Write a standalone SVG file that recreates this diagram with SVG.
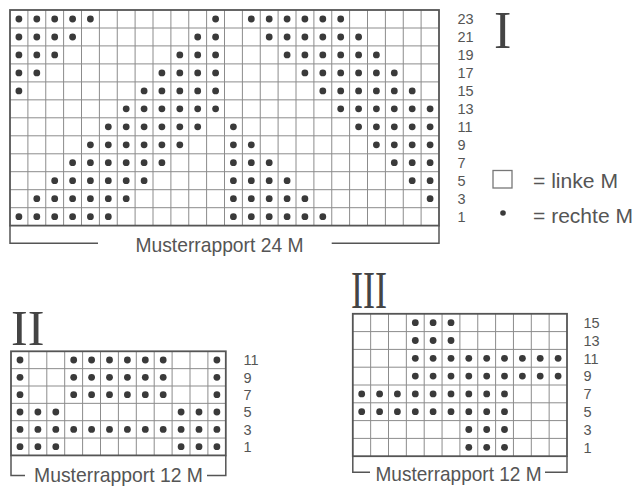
<svg xmlns="http://www.w3.org/2000/svg" width="638" height="487" viewBox="0 0 638 487">
<style>
.g{stroke:#8c8c8c;stroke-width:1;fill:none}
.b{stroke:#555;stroke-width:1.8;fill:none}
.br{stroke:#555;stroke-width:1.5;fill:none}
.dot circle{fill:#3a3a3a}
.t{font-family:"Liberation Sans",Arial,sans-serif;fill:#555}
.n{font-family:"Liberation Sans",Arial,sans-serif;fill:#555;font-size:14.5px}
.r{font-family:"Liberation Serif","Times New Roman",serif;fill:#444}
</style>
<rect width="638" height="487" fill="#fff"/>
<g id="chart-I">
<path class="g" d="M27.9 10V225.6M45.75 10V225.6M63.6 10V225.6M81.5 10V225.6M99.4 10V225.6M117.25 10V225.6M135.1 10V225.6M153 10V225.6M170.9 10V225.6M188.75 10V225.6M206.6 10V225.6M224.5 10V225.6M242.4 10V225.6M260.25 10V225.6M278.1 10V225.6M296 10V225.6M313.9 10V225.6M331.75 10V225.6M349.6 10V225.6M367.5 10V225.6M385.4 10V225.6M403.25 10V225.6M421.1 10V225.6M10 28H439M10 45.9H439M10 63.9H439M10 81.9H439M10 99.85H439M10 117.8H439M10 135.8H439M10 153.8H439M10 171.7H439M10 189.7H439M10 207.7H439"/>
<rect class="b" x="10" y="10" width="429" height="215.6"/>
<path class="br" d="M10 225.6V243.3H98M439 225.6V243.3H331.7"/>
<g class="dot">
<circle cx="18.9" cy="19" r="3.4"/><circle cx="36.8" cy="19" r="3.4"/><circle cx="54.7" cy="19" r="3.4"/><circle cx="72.6" cy="19" r="3.4"/><circle cx="90.4" cy="19" r="3.4"/><circle cx="215.6" cy="19" r="3.4"/><circle cx="251.3" cy="19" r="3.4"/><circle cx="269.2" cy="19" r="3.4"/><circle cx="287.1" cy="19" r="3.4"/><circle cx="304.9" cy="19" r="3.4"/><circle cx="322.8" cy="19" r="3.4"/><circle cx="340.7" cy="19" r="3.4"/>
<circle cx="18.9" cy="37" r="3.4"/><circle cx="36.8" cy="37" r="3.4"/><circle cx="54.7" cy="37" r="3.4"/><circle cx="72.6" cy="37" r="3.4"/><circle cx="197.7" cy="37" r="3.4"/><circle cx="215.6" cy="37" r="3.4"/><circle cx="269.2" cy="37" r="3.4"/><circle cx="287.1" cy="37" r="3.4"/><circle cx="304.9" cy="37" r="3.4"/><circle cx="322.8" cy="37" r="3.4"/><circle cx="340.7" cy="37" r="3.4"/><circle cx="358.6" cy="37" r="3.4"/>
<circle cx="18.9" cy="54.9" r="3.4"/><circle cx="36.8" cy="54.9" r="3.4"/><circle cx="54.7" cy="54.9" r="3.4"/><circle cx="179.8" cy="54.9" r="3.4"/><circle cx="197.7" cy="54.9" r="3.4"/><circle cx="215.6" cy="54.9" r="3.4"/><circle cx="287.1" cy="54.9" r="3.4"/><circle cx="304.9" cy="54.9" r="3.4"/><circle cx="322.8" cy="54.9" r="3.4"/><circle cx="340.7" cy="54.9" r="3.4"/><circle cx="358.6" cy="54.9" r="3.4"/><circle cx="376.4" cy="54.9" r="3.4"/>
<circle cx="18.9" cy="72.9" r="3.4"/><circle cx="36.8" cy="72.9" r="3.4"/><circle cx="161.9" cy="72.9" r="3.4"/><circle cx="179.8" cy="72.9" r="3.4"/><circle cx="197.7" cy="72.9" r="3.4"/><circle cx="215.6" cy="72.9" r="3.4"/><circle cx="304.9" cy="72.9" r="3.4"/><circle cx="322.8" cy="72.9" r="3.4"/><circle cx="340.7" cy="72.9" r="3.4"/><circle cx="358.6" cy="72.9" r="3.4"/><circle cx="376.4" cy="72.9" r="3.4"/><circle cx="394.3" cy="72.9" r="3.4"/>
<circle cx="18.9" cy="90.9" r="3.4"/><circle cx="144.1" cy="90.9" r="3.4"/><circle cx="161.9" cy="90.9" r="3.4"/><circle cx="179.8" cy="90.9" r="3.4"/><circle cx="197.7" cy="90.9" r="3.4"/><circle cx="215.6" cy="90.9" r="3.4"/><circle cx="322.8" cy="90.9" r="3.4"/><circle cx="340.7" cy="90.9" r="3.4"/><circle cx="358.6" cy="90.9" r="3.4"/><circle cx="376.4" cy="90.9" r="3.4"/><circle cx="394.3" cy="90.9" r="3.4"/><circle cx="412.2" cy="90.9" r="3.4"/>
<circle cx="126.2" cy="108.8" r="3.4"/><circle cx="144.1" cy="108.8" r="3.4"/><circle cx="161.9" cy="108.8" r="3.4"/><circle cx="179.8" cy="108.8" r="3.4"/><circle cx="197.7" cy="108.8" r="3.4"/><circle cx="215.6" cy="108.8" r="3.4"/><circle cx="340.7" cy="108.8" r="3.4"/><circle cx="358.6" cy="108.8" r="3.4"/><circle cx="376.4" cy="108.8" r="3.4"/><circle cx="394.3" cy="108.8" r="3.4"/><circle cx="412.2" cy="108.8" r="3.4"/><circle cx="430.1" cy="108.8" r="3.4"/>
<circle cx="108.3" cy="126.8" r="3.4"/><circle cx="126.2" cy="126.8" r="3.4"/><circle cx="144.1" cy="126.8" r="3.4"/><circle cx="161.9" cy="126.8" r="3.4"/><circle cx="179.8" cy="126.8" r="3.4"/><circle cx="197.7" cy="126.8" r="3.4"/><circle cx="233.4" cy="126.8" r="3.4"/><circle cx="358.6" cy="126.8" r="3.4"/><circle cx="376.4" cy="126.8" r="3.4"/><circle cx="394.3" cy="126.8" r="3.4"/><circle cx="412.2" cy="126.8" r="3.4"/><circle cx="430.1" cy="126.8" r="3.4"/>
<circle cx="90.4" cy="144.8" r="3.4"/><circle cx="108.3" cy="144.8" r="3.4"/><circle cx="126.2" cy="144.8" r="3.4"/><circle cx="144.1" cy="144.8" r="3.4"/><circle cx="161.9" cy="144.8" r="3.4"/><circle cx="179.8" cy="144.8" r="3.4"/><circle cx="233.4" cy="144.8" r="3.4"/><circle cx="251.3" cy="144.8" r="3.4"/><circle cx="376.4" cy="144.8" r="3.4"/><circle cx="394.3" cy="144.8" r="3.4"/><circle cx="412.2" cy="144.8" r="3.4"/><circle cx="430.1" cy="144.8" r="3.4"/>
<circle cx="72.6" cy="162.7" r="3.4"/><circle cx="90.4" cy="162.7" r="3.4"/><circle cx="108.3" cy="162.7" r="3.4"/><circle cx="126.2" cy="162.7" r="3.4"/><circle cx="144.1" cy="162.7" r="3.4"/><circle cx="161.9" cy="162.7" r="3.4"/><circle cx="233.4" cy="162.7" r="3.4"/><circle cx="251.3" cy="162.7" r="3.4"/><circle cx="269.2" cy="162.7" r="3.4"/><circle cx="394.3" cy="162.7" r="3.4"/><circle cx="412.2" cy="162.7" r="3.4"/><circle cx="430.1" cy="162.7" r="3.4"/>
<circle cx="54.7" cy="180.7" r="3.4"/><circle cx="72.6" cy="180.7" r="3.4"/><circle cx="90.4" cy="180.7" r="3.4"/><circle cx="108.3" cy="180.7" r="3.4"/><circle cx="126.2" cy="180.7" r="3.4"/><circle cx="144.1" cy="180.7" r="3.4"/><circle cx="233.4" cy="180.7" r="3.4"/><circle cx="251.3" cy="180.7" r="3.4"/><circle cx="269.2" cy="180.7" r="3.4"/><circle cx="287.1" cy="180.7" r="3.4"/><circle cx="412.2" cy="180.7" r="3.4"/><circle cx="430.1" cy="180.7" r="3.4"/>
<circle cx="36.8" cy="198.7" r="3.4"/><circle cx="54.7" cy="198.7" r="3.4"/><circle cx="72.6" cy="198.7" r="3.4"/><circle cx="90.4" cy="198.7" r="3.4"/><circle cx="108.3" cy="198.7" r="3.4"/><circle cx="126.2" cy="198.7" r="3.4"/><circle cx="233.4" cy="198.7" r="3.4"/><circle cx="251.3" cy="198.7" r="3.4"/><circle cx="269.2" cy="198.7" r="3.4"/><circle cx="287.1" cy="198.7" r="3.4"/><circle cx="304.9" cy="198.7" r="3.4"/><circle cx="430.1" cy="198.7" r="3.4"/>
<circle cx="18.9" cy="216.7" r="3.4"/><circle cx="36.8" cy="216.7" r="3.4"/><circle cx="54.7" cy="216.7" r="3.4"/><circle cx="72.6" cy="216.7" r="3.4"/><circle cx="90.4" cy="216.7" r="3.4"/><circle cx="108.3" cy="216.7" r="3.4"/><circle cx="233.4" cy="216.7" r="3.4"/><circle cx="251.3" cy="216.7" r="3.4"/><circle cx="269.2" cy="216.7" r="3.4"/><circle cx="287.1" cy="216.7" r="3.4"/><circle cx="304.9" cy="216.7" r="3.4"/><circle cx="322.8" cy="216.7" r="3.4"/>
</g>
<g class="n">
<text x="457.5" y="24.3">23</text><text x="457.5" y="42.3">21</text><text x="457.5" y="60.2">19</text><text x="457.5" y="78.2">17</text><text x="457.5" y="96.2">15</text><text x="457.5" y="114.1">13</text><text x="457.5" y="132.1">11</text><text x="457.5" y="150.1">9</text><text x="457.5" y="168">7</text><text x="457.5" y="186">5</text><text x="457.5" y="204">3</text><text x="457.5" y="222">1</text>
</g>
<text class="t" x="135.5" y="251.7" font-size="21" textLength="168" lengthAdjust="spacingAndGlyphs">Musterrapport 24 M</text>
<text class="r" x="494" y="48" font-size="52">I</text>
</g>
<g id="legend">
<rect x="493" y="170.5" width="19" height="17.5" fill="none" stroke="#777" stroke-width="1.3"/>
<text class="t" x="533" y="188" font-size="21" textLength="85" lengthAdjust="spacingAndGlyphs">= linke M</text>
<circle cx="503" cy="213" r="2.8" fill="#3a3a3a"/>
<text class="t" x="533" y="223" font-size="21" textLength="100" lengthAdjust="spacingAndGlyphs">= rechte M</text>
</g>
<g id="chart-II">
<path class="g" d="M28.9 351.3V455.4M46.8 351.3V455.4M64.7 351.3V455.4M82.6 351.3V455.4M100.5 351.3V455.4M118.4 351.3V455.4M136.3 351.3V455.4M154.2 351.3V455.4M172.1 351.3V455.4M190 351.3V455.4M207.9 351.3V455.4M11 368.65H225.8M11 386H225.8M11 403.35H225.8M11 420.7H225.8M11 438.05H225.8"/>
<rect class="b" x="11" y="351.3" width="214.8" height="104.1"/>
<path class="br" d="M11 455.4V475.5H25M225.8 455.4V475.5H207"/>
<g class="dot">
<circle cx="20" cy="360" r="3.4"/><circle cx="73.7" cy="360" r="3.4"/><circle cx="91.6" cy="360" r="3.4"/><circle cx="109.5" cy="360" r="3.4"/><circle cx="127.4" cy="360" r="3.4"/><circle cx="145.3" cy="360" r="3.4"/><circle cx="163.2" cy="360" r="3.4"/><circle cx="216.9" cy="360" r="3.4"/>
<circle cx="20" cy="377.3" r="3.4"/><circle cx="73.7" cy="377.3" r="3.4"/><circle cx="91.6" cy="377.3" r="3.4"/><circle cx="109.5" cy="377.3" r="3.4"/><circle cx="127.4" cy="377.3" r="3.4"/><circle cx="145.3" cy="377.3" r="3.4"/><circle cx="163.2" cy="377.3" r="3.4"/><circle cx="216.9" cy="377.3" r="3.4"/>
<circle cx="20" cy="394.7" r="3.4"/><circle cx="73.7" cy="394.7" r="3.4"/><circle cx="91.6" cy="394.7" r="3.4"/><circle cx="109.5" cy="394.7" r="3.4"/><circle cx="127.4" cy="394.7" r="3.4"/><circle cx="145.3" cy="394.7" r="3.4"/><circle cx="163.2" cy="394.7" r="3.4"/><circle cx="216.9" cy="394.7" r="3.4"/>
<circle cx="20" cy="412" r="3.4"/><circle cx="37.9" cy="412" r="3.4"/><circle cx="55.8" cy="412" r="3.4"/><circle cx="181.1" cy="412" r="3.4"/><circle cx="199" cy="412" r="3.4"/><circle cx="216.9" cy="412" r="3.4"/>
<circle cx="20" cy="429.4" r="3.4"/><circle cx="37.9" cy="429.4" r="3.4"/><circle cx="55.8" cy="429.4" r="3.4"/><circle cx="73.7" cy="429.4" r="3.4"/><circle cx="91.6" cy="429.4" r="3.4"/><circle cx="109.5" cy="429.4" r="3.4"/><circle cx="127.4" cy="429.4" r="3.4"/><circle cx="145.3" cy="429.4" r="3.4"/><circle cx="163.2" cy="429.4" r="3.4"/><circle cx="181.1" cy="429.4" r="3.4"/><circle cx="199" cy="429.4" r="3.4"/><circle cx="216.9" cy="429.4" r="3.4"/>
<circle cx="20" cy="446.7" r="3.4"/><circle cx="37.9" cy="446.7" r="3.4"/><circle cx="55.8" cy="446.7" r="3.4"/><circle cx="181.1" cy="446.7" r="3.4"/><circle cx="199" cy="446.7" r="3.4"/><circle cx="216.9" cy="446.7" r="3.4"/>
</g>
<g class="n">
<text x="243.5" y="365.3">11</text><text x="243.5" y="382.6">9</text><text x="243.5" y="400">7</text><text x="243.5" y="417.3">5</text><text x="243.5" y="434.7">3</text><text x="243.5" y="452">1</text>
</g>
<text class="t" x="34" y="482" font-size="21" textLength="169" lengthAdjust="spacingAndGlyphs">Musterrapport 12 M</text>
<text class="r" x="11" y="345" font-size="50">II</text>
</g>
<g id="chart-III">
<path class="g" d="M370.65 313.8V456.2M388.5 313.8V456.2M406.35 313.8V456.2M424.2 313.8V456.2M442.05 313.8V456.2M459.9 313.8V456.2M477.75 313.8V456.2M495.6 313.8V456.2M513.45 313.8V456.2M531.3 313.8V456.2M549.15 313.8V456.2M352.8 331.6H567M352.8 349.4H567M352.8 367.2H567M352.8 385H567M352.8 402.8H567M352.8 420.6H567M352.8 438.4H567"/>
<rect class="b" x="352.8" y="313.8" width="214.2" height="142.4"/>
<path class="br" d="M352.8 456.2V472.3H370M567 456.2V472.3H545"/>
<g class="dot">
<circle cx="415.3" cy="322.7" r="3.4"/><circle cx="433.1" cy="322.7" r="3.4"/><circle cx="451" cy="322.7" r="3.4"/>
<circle cx="415.3" cy="340.5" r="3.4"/><circle cx="433.1" cy="340.5" r="3.4"/><circle cx="451" cy="340.5" r="3.4"/>
<circle cx="415.3" cy="358.3" r="3.4"/><circle cx="433.1" cy="358.3" r="3.4"/><circle cx="451" cy="358.3" r="3.4"/><circle cx="468.8" cy="358.3" r="3.4"/><circle cx="486.7" cy="358.3" r="3.4"/><circle cx="504.5" cy="358.3" r="3.4"/><circle cx="522.4" cy="358.3" r="3.4"/><circle cx="540.2" cy="358.3" r="3.4"/><circle cx="558.1" cy="358.3" r="3.4"/>
<circle cx="415.3" cy="376.1" r="3.4"/><circle cx="433.1" cy="376.1" r="3.4"/><circle cx="451" cy="376.1" r="3.4"/><circle cx="468.8" cy="376.1" r="3.4"/><circle cx="486.7" cy="376.1" r="3.4"/><circle cx="504.5" cy="376.1" r="3.4"/><circle cx="522.4" cy="376.1" r="3.4"/><circle cx="540.2" cy="376.1" r="3.4"/><circle cx="558.1" cy="376.1" r="3.4"/>
<circle cx="361.7" cy="393.9" r="3.4"/><circle cx="379.6" cy="393.9" r="3.4"/><circle cx="397.4" cy="393.9" r="3.4"/><circle cx="415.3" cy="393.9" r="3.4"/><circle cx="433.1" cy="393.9" r="3.4"/><circle cx="451" cy="393.9" r="3.4"/><circle cx="468.8" cy="393.9" r="3.4"/><circle cx="486.7" cy="393.9" r="3.4"/><circle cx="504.5" cy="393.9" r="3.4"/>
<circle cx="361.7" cy="411.7" r="3.4"/><circle cx="379.6" cy="411.7" r="3.4"/><circle cx="397.4" cy="411.7" r="3.4"/><circle cx="415.3" cy="411.7" r="3.4"/><circle cx="433.1" cy="411.7" r="3.4"/><circle cx="451" cy="411.7" r="3.4"/><circle cx="468.8" cy="411.7" r="3.4"/><circle cx="486.7" cy="411.7" r="3.4"/><circle cx="504.5" cy="411.7" r="3.4"/>
<circle cx="468.8" cy="429.5" r="3.4"/><circle cx="486.7" cy="429.5" r="3.4"/><circle cx="504.5" cy="429.5" r="3.4"/>
<circle cx="468.8" cy="447.3" r="3.4"/><circle cx="486.7" cy="447.3" r="3.4"/><circle cx="504.5" cy="447.3" r="3.4"/>
</g>
<g class="n">
<text x="583.5" y="328">15</text><text x="583.5" y="345.8">13</text><text x="583.5" y="363.6">11</text><text x="583.5" y="381.4">9</text><text x="583.5" y="399.2">7</text><text x="583.5" y="417">5</text><text x="583.5" y="434.8">3</text><text x="583.5" y="452.6">1</text>
</g>
<text class="t" x="375.5" y="480.7" font-size="21" textLength="166" lengthAdjust="spacingAndGlyphs">Musterrapport 12 M</text>
<text class="r" x="351" y="308.3" font-size="53" textLength="36" lengthAdjust="spacingAndGlyphs">III</text>
</g>
</svg>
